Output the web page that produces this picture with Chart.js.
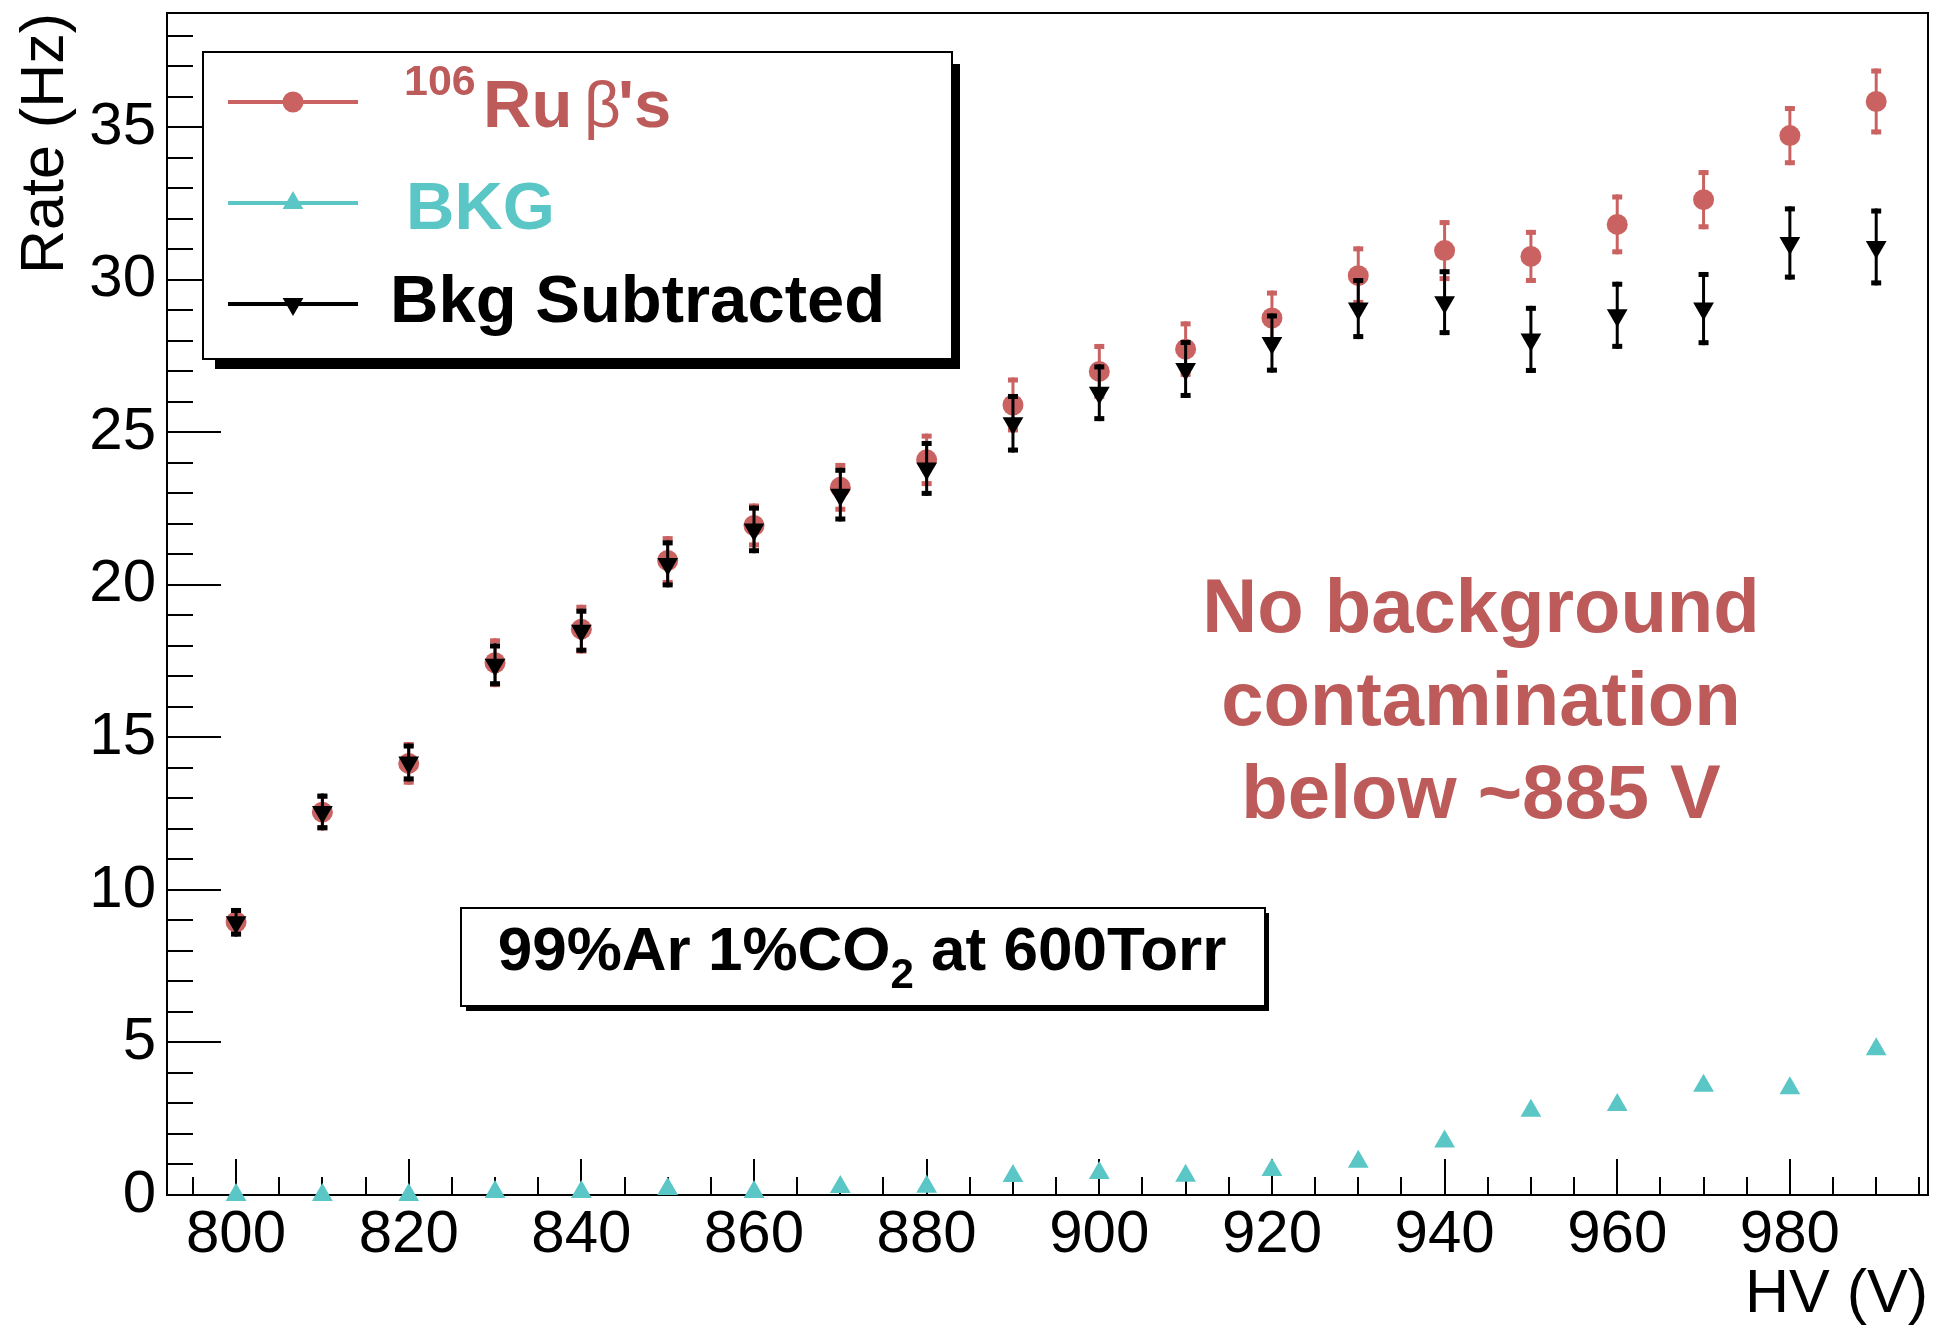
<!DOCTYPE html>
<html>
<head>
<meta charset="utf-8">
<script src="https://cdn.jsdelivr.net/npm/chart.js@4/dist/chart.umd.min.js"></script>
<style>
html,body{margin:0;padding:0;background:#fff;}
#wrap{width:1940px;height:1326px;position:relative;}
canvas{display:block;}
</style>
</head>
<body>
<div id="wrap"><canvas id="c" width="1940" height="1326"></canvas></div>
<script>
// ---- data ----
const hv       = [800, 810, 820, 830, 840, 850, 860, 870, 880, 890, 900, 910, 920, 930, 940, 950, 960, 970, 980, 990];
const ruRate   = [8.95, 12.55, 14.15, 17.45, 18.55, 20.8, 21.95, 23.2, 24.1, 25.9, 27.0, 27.73, 28.75, 30.14, 30.96, 30.77, 31.82, 32.63, 34.73, 35.85];
const ruErr    = [0.45, 0.6, 0.7, 0.8, 0.8, 0.8, 0.72, 0.8, 0.86, 0.9, 0.9, 0.91, 0.9, 0.96, 1.0, 0.87, 0.98, 0.97, 0.97, 1.08];
const bkgRate  = [0.0, 0.0, 0.0, 0.1, 0.1, 0.2, 0.1, 0.26, 0.27, 0.62, 0.72, 0.63, 0.82, 1.09, 1.75, 2.76, 2.95, 3.58, 3.5, 4.78];
const subRate  = [8.94, 12.56, 14.18, 17.38, 18.5, 20.69, 21.82, 22.96, 23.82, 25.3, 26.3, 27.08, 27.93, 29.06, 29.27, 28.05, 28.84, 29.06, 31.21, 31.08];
const subErr   = [0.47, 0.6, 0.62, 0.7, 0.72, 0.77, 0.78, 0.88, 0.9, 0.96, 0.93, 0.95, 0.97, 1.0, 1.08, 1.1, 1.1, 1.2, 1.2, 1.26];
const yTickValues = [0, 5, 10, 15, 20, 25, 30, 35];
const xTickValues = [800, 820, 840, 860, 880, 900, 920, 940, 960, 980];
const legendNames = ["Ru \u03B2's", "BKG", "Bkg Subtracted"];
const gasText = ["99%Ar 1%CO", "2", " at 600Torr"];
const noteLines = ["No background", "contamination", "below ~885 V"];

// ---- style ----
const FONT = "'Liberation Sans', Arial, Helvetica, sans-serif";
const RED = '#cb6262';
const RED_TEXT = '#bd5b5b';
const CYAN = '#5ac6c6';
const BLACK = '#000000';

function pts(ys) { return hv.map((x, i) => ({x: x, y: ys[i]})); }

function triangle(ctx, x, y, r, down) {
  const s = down ? -1 : 1;
  ctx.beginPath();
  ctx.moveTo(x, y - s * r);
  ctx.lineTo(x + r * Math.sin(2 * Math.PI / 3), y + s * r * 0.5);
  ctx.lineTo(x - r * Math.sin(2 * Math.PI / 3), y + s * r * 0.5);
  ctx.closePath();
  ctx.fill();
}

function noPad(s) { s.paddingTop = 0; s.paddingBottom = 0; s.paddingLeft = 0; s.paddingRight = 0; }

const errorBarPlugin = {
  id: 'errorBars',
  beforeDatasetDraw(chart, args) {
    const ds = chart.data.datasets[args.index];
    if (!ds.errors) return;
    const ctx = chart.ctx, xs = chart.scales.x, ys = chart.scales.y;
    ctx.save();
    ctx.strokeStyle = ds.borderColor;
    ctx.fillStyle = ds.borderColor;
    ctx.lineWidth = 3;
    ds.data.forEach((p, i) => {
      const e = ds.errors[i];
      const px = xs.getPixelForValue(p.x);
      const pT = ys.getPixelForValue(p.y + e);
      const pB = ys.getPixelForValue(p.y - e);
      ctx.beginPath(); ctx.moveTo(px, pT); ctx.lineTo(px, pB); ctx.stroke();
      ctx.fillRect(px - 5, pT, 10, 5);
      ctx.fillRect(px - 5, pB - 5, 10, 5);
    });
    ctx.restore();
  }
};

const frameTickPlugin = {
  id: 'frameTicks',
  beforeDatasetsDraw(chart) {
    const ctx = chart.ctx, xs = chart.scales.x, ys = chart.scales.y;
    const a = chart.chartArea;
    ctx.save();
    ctx.strokeStyle = '#000';
    ctx.lineWidth = 2;
    ctx.strokeRect(a.left, a.top, a.right - a.left, a.bottom - a.top);
    ctx.beginPath();
    // y ticks: minor every 1, major every 5
    for (let v = Math.ceil(ys.min); v <= ys.max; v += 1) {
      const py = Math.round(ys.getPixelForValue(v));
      const len = (v % 5 === 0) ? 54 : 26;
      ctx.moveTo(a.left, py); ctx.lineTo(a.left + len, py);
    }
    // x ticks: minor every 5, major every 20
    for (let v = Math.ceil(xs.min / 5) * 5; v <= xs.max; v += 5) {
      const px = Math.round(xs.getPixelForValue(v));
      const len = (v % 20 === 0) ? 36 : 18;
      ctx.moveTo(px, a.bottom); ctx.lineTo(px, a.bottom - len);
    }
    ctx.stroke();
    ctx.restore();
  }
};

const overlayPlugin = {
  id: 'overlays',
  afterDraw(chart) {
    const ctx = chart.ctx;
    ctx.save();
    // ---- legend box ----
    ctx.fillStyle = '#000';
    ctx.fillRect(215, 64, 745, 305);
    ctx.fillStyle = '#fff';
    ctx.fillRect(203, 52, 749, 307);
    ctx.strokeStyle = '#000';
    ctx.lineWidth = 2;
    ctx.strokeRect(203, 52, 749, 307);
    const rows = [
      {y: 102, color: RED, kind: 'circle'},
      {y: 203, color: CYAN, kind: 'up'},
      {y: 304, color: BLACK, kind: 'down'}
    ];
    rows.forEach(r => {
      ctx.strokeStyle = r.color; ctx.fillStyle = r.color; ctx.lineWidth = 4;
      ctx.beginPath(); ctx.moveTo(228, r.y); ctx.lineTo(358, r.y); ctx.stroke();
      if (r.kind === 'circle') { ctx.beginPath(); ctx.arc(293, r.y, 10.5, 0, 2 * Math.PI); ctx.fill(); }
      else triangle(ctx, 293, r.y, 12, r.kind === 'down');
    });
    ctx.textBaseline = 'alphabetic';
    ctx.textAlign = 'left';
    // entry 1: superscript 106 + Ru beta's
    ctx.fillStyle = RED_TEXT;
    ctx.font = 'bold 43px ' + FONT;
    ctx.fillText('106', 404, 95);
    ctx.font = 'bold 67px ' + FONT;
    ctx.fillText('Ru', 483, 127);
    ctx.font = '64px ' + FONT;
    ctx.fillText('\u03B2', 584, 127);
    ctx.font = 'bold 67px ' + FONT;
    ctx.fillText("'s", 618, 127);
    // entry 2
    ctx.fillStyle = CYAN;
    ctx.fillText(legendNames[1], 406, 229);
    // entry 3
    ctx.fillStyle = '#000';
    ctx.fillText(legendNames[2], 390, 322);

    // ---- gas annotation box ----
    ctx.fillStyle = '#000';
    ctx.fillRect(466, 913, 803, 98);
    ctx.fillStyle = '#fff';
    ctx.fillRect(461, 908, 804, 98);
    ctx.strokeStyle = '#000'; ctx.lineWidth = 2;
    ctx.strokeRect(461, 908, 804, 98);
    ctx.fillStyle = '#000';
    ctx.font = 'bold 62px ' + FONT;
    const w1 = ctx.measureText(gasText[0]).width;
    const w3 = ctx.measureText(gasText[2]).width;
    ctx.font = 'bold 42px ' + FONT;
    const w2 = ctx.measureText(gasText[1]).width;
    let tx = 862 - (w1 + w2 + w3) / 2;
    ctx.font = 'bold 62px ' + FONT;
    ctx.fillText(gasText[0], tx, 970);
    ctx.font = 'bold 42px ' + FONT;
    ctx.fillText(gasText[1], tx + w1, 988);
    ctx.font = 'bold 62px ' + FONT;
    ctx.fillText(gasText[2], tx + w1 + w2, 970);

    // ---- red note ----
    ctx.fillStyle = RED_TEXT;
    ctx.font = 'bold 76px ' + FONT;
    ctx.textAlign = 'center';
    const base = [632, 725, 818];
    noteLines.forEach((t, i) => ctx.fillText(t, 1481, base[i]));
    ctx.restore();
  }
};

new Chart(document.getElementById('c'), {
  type: 'scatter',
  data: {
    datasets: [
      {label: 'Bkg Subtracted', data: pts(subRate), errors: subErr, order: 0,
       borderColor: BLACK, backgroundColor: BLACK, pointStyle: 'triangle', rotation: 180,
       pointRadius: 12, pointBorderWidth: 0, showLine: false, clip: false},
      {label: 'BKG', data: pts(bkgRate), order: 1,
       borderColor: CYAN, backgroundColor: CYAN, pointStyle: 'triangle',
       pointRadius: 12, pointBorderWidth: 0, showLine: false, clip: false},
      {label: '106Ru', data: pts(ruRate), errors: ruErr, order: 2,
       borderColor: RED, backgroundColor: RED, pointStyle: 'circle',
       pointRadius: 10.5, pointBorderWidth: 0, showLine: false, clip: false}
    ]
  },
  options: {
    responsive: false,
    animation: false,
    devicePixelRatio: 1,
    events: [],
    layout: {padding: {left: 0, top: 13, right: 9, bottom: 0}},
    plugins: {legend: {display: false}, tooltip: {enabled: false}, title: {display: false}},
    scales: {
      x: {
        type: 'linear', min: 792, max: 996,
        grid: {display: false, drawTicks: false},
        border: {display: false},
        afterBuildTicks: (s) => { s.ticks = xTickValues.map(v => ({value: v})); },
        afterFit: (s) => { s.height = 131; noPad(s); },
        ticks: {autoSkip: false, maxRotation: 0, minRotation: 0, padding: 4, color: '#000',
                font: {family: FONT, size: 60}},
        title: {display: true, text: 'HV (V)', align: 'end', color: '#000',
                font: {family: FONT, size: 61, lineHeight: 1}, padding: {top: 0, bottom: 0}}
      },
      y: {
        type: 'linear', min: 0, max: 38.75,
        grid: {display: false, drawTicks: false},
        border: {display: false},
        afterBuildTicks: (s) => { s.ticks = yTickValues.map(v => ({value: v})); },
        afterFit: (s) => { s.width = 167; noPad(s); },
        ticks: {padding: 11, color: '#000', font: {family: FONT, size: 60}},
        title: {display: true, text: 'Rate (Hz)', align: 'end', color: '#000',
                font: {family: FONT, size: 61, lineHeight: 1}, padding: {top: 16, bottom: 0}}
      }
    }
  },
  plugins: [frameTickPlugin, errorBarPlugin, overlayPlugin]
});
</script>
</body>
</html>
